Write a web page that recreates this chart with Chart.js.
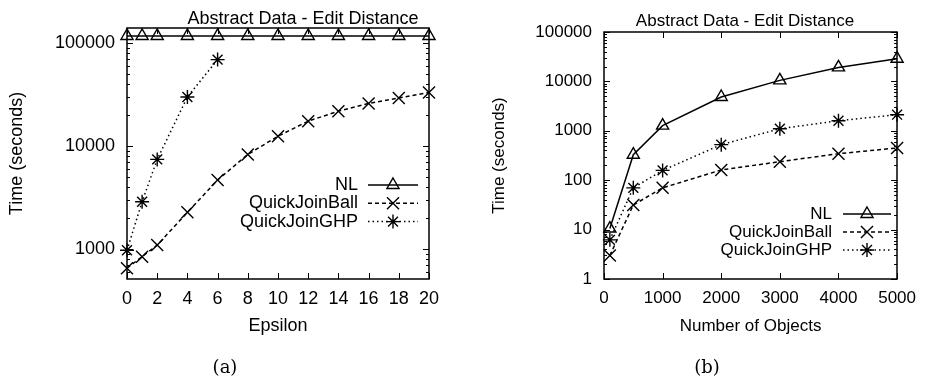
<!DOCTYPE html>
<html>
<head>
<meta charset="utf-8">
<script src="https://cdn.jsdelivr.net/npm/chart.js@4.4.0/dist/chart.umd.min.js"></script>
<style>
    body { margin: 0; background: #fff; }
    #wrap { position: relative; width: 925px; height: 379px; background: #fff; }
    canvas { position: absolute; top: 0; }
    .cap { position: absolute; top: 356px; width: 60px; margin-left: -30px; text-align: center;
           font-family: "DejaVu Serif", "Liberation Serif", serif; font-size: 18px; color: #000; }
</style>
</head>
<body>
<div id="wrap">
    <canvas id="chartA" width="460" height="379" style="left:0"></canvas>
    <canvas id="chartB" width="465" height="379" style="left:460px"></canvas>
    <div class="cap" style="left:225px">(a)</div>
    <div class="cap" style="left:707px">(b)</div>
</div>
<script>
// (a) thoi gian theo epsilon
var epsilon = [0, 1, 2, 4, 6, 8, 10, 12, 14, 16, 18, 20];
var nlA = [118000, 118000, 118000, 118000, 118000, 118000, 118000, 118000, 118000, 118000, 118000, 118000];
var ballA = [650, 840, 1090, 2270, 4680, 8300, 12500, 17500, 21900, 26000, 29400, 33200];
var epsilonGhp = [0, 1, 2, 4, 6];
var ghpA = [970, 2880, 7430, 30100, 69500];
var xTicksA = [0, 2, 4, 6, 8, 10, 12, 14, 16, 18, 20];
var yTicksA = [1000, 10000, 100000];

// (b) thoi gian theo so doi tuong
var objects = [100, 500, 1000, 2000, 3000, 4000, 5000];
var nlB = [10.5, 328, 1270, 4830, 10500, 19200, 28800];
var ballB = [3, 31.5, 70, 161, 237, 344, 449];
var ghpB = [6.2, 70, 158, 524, 1100, 1600, 2120];
var xTicksB = [0, 1000, 2000, 3000, 4000, 5000];
var yTicksB = [1, 10, 100, 1000, 10000, 100000];

var seriesNames = ['NL', 'QuickJoinBall', 'QuickJoinGHP'];
var FONT = '"Liberation Sans", Arial, Helvetica, sans-serif';

Chart.defaults.color = '#000';
Chart.defaults.font.family = FONT;

function toPoints(xs, ys) {
    return xs.map(function (x, i) { return { x: x, y: ys[i] }; });
}

// kieu duong cho tung series
var styles = [
    { dash: [], point: 'triangle', radius: 7 },
    { dash: [4, 3], point: 'crossRot', radius: 8.5 },
    { dash: [1.5, 3], point: 'star', radius: 7 }
];

function makeDataset(i, pts) {
    return {
        label: seriesNames[i],
        data: pts,
        borderColor: '#000',
        backgroundColor: 'transparent',
        borderWidth: 1.5,
        borderDash: styles[i].dash,
        pointStyle: styles[i].point,
        pointRadius: styles[i].radius,
        pointBorderWidth: 1.4,
        pointBackgroundColor: 'transparent',
        pointBorderColor: '#000',
        tension: 0,
        clip: false
    };
}

// khung, vach chia huong vao trong, tieu de va chu thich
var framePlugin = {
    id: 'frame',
    afterDraw: function (chart, args, opts) {
        var ctx = chart.ctx;
        var a = chart.chartArea;
        var xs = chart.scales.x, ys = chart.scales.y;
        ctx.save();
        ctx.strokeStyle = '#000';
        ctx.lineWidth = 1.5;
        ctx.setLineDash([]);
        ctx.strokeRect(Math.round(a.left), Math.round(a.top),
            Math.round(a.right - a.left), Math.round(a.bottom - a.top));

        ctx.lineWidth = 1;
        ctx.beginPath();
        xs.ticks.forEach(function (t) {
            var px = Math.round(xs.getPixelForValue(t.value)) + 0.5;
            ctx.moveTo(px, a.bottom); ctx.lineTo(px, a.bottom - 6);
            ctx.moveTo(px, a.top); ctx.lineTo(px, a.top + 6);
        });
        // vach log: chinh 6px, phu 3px
        var lo = Math.floor(Math.log10(ys.min)), hi = Math.ceil(Math.log10(ys.max));
        for (var d = lo; d <= hi; d++) {
            for (var k = 1; k <= 9; k++) {
                var v = k * Math.pow(10, d);
                if (v < ys.min || v > ys.max) continue;
                var py = Math.round(ys.getPixelForValue(v)) + 0.5;
                var len = k === 1 ? 6 : 3;
                ctx.moveTo(a.left, py); ctx.lineTo(a.left + len, py);
                ctx.moveTo(a.right, py); ctx.lineTo(a.right - len, py);
            }
        }
        ctx.stroke();

        // tieu de
        ctx.fillStyle = '#000';
        ctx.font = opts.size + 'px ' + FONT;
        ctx.textAlign = 'center';
        ctx.textBaseline = 'middle';
        ctx.fillText(opts.title, opts.titleX, opts.titleY);

        // chu thich
        chart.data.datasets.forEach(function (ds, i) {
            var y = opts.legY + i * opts.legDy;
            ctx.fillStyle = '#000';
            ctx.textAlign = 'right';
            ctx.fillText(ds.label, opts.legText, y);
            ctx.beginPath();
            ctx.lineWidth = ds.borderWidth;
            ctx.setLineDash(ds.borderDash);
            ctx.moveTo(opts.legX1, y); ctx.lineTo(opts.legX2, y);
            ctx.stroke();
            ctx.setLineDash([]);
            ctx.lineWidth = ds.pointBorderWidth;
            ctx.fillStyle = 'rgba(0,0,0,0)';
            Chart.helpers.drawPoint(ctx, {
                pointStyle: ds.pointStyle, radius: ds.pointRadius,
                rotation: 0, borderWidth: ds.pointBorderWidth
            }, (opts.legX1 + opts.legX2) / 2, y);
        });
        ctx.restore();
    }
};

function makeChart(id, cfg) {
    var ctx = document.getElementById(id).getContext('2d');
    return new Chart(ctx, {
        type: 'line',
        data: { datasets: cfg.datasets },
        options: {
            responsive: false,
            animation: false,
            layout: { padding: cfg.padding },
            scales: {
                x: {
                    type: 'linear',
                    min: cfg.xTicks[0],
                    max: cfg.xTicks[cfg.xTicks.length - 1],
                    afterBuildTicks: function (s) { s.ticks = cfg.xTicks.map(function (v) { return { value: v }; }); },
                    afterFit: function (s) { s.height = 70; },
                    grid: { display: false, drawTicks: false },
                    border: { display: false },
                    ticks: { font: { size: cfg.size }, padding: 9, maxRotation: 0, autoSkip: false,
                             callback: function (v) { return String(v); } },
                    title: { display: true, text: cfg.xTitle, font: { size: cfg.size }, padding: { top: 0, bottom: 12 } }
                },
                y: {
                    type: 'logarithmic',
                    min: cfg.yMin,
                    max: cfg.yMax,
                    afterBuildTicks: function (s) { s.ticks = cfg.yTicks.map(function (v) { return { value: v }; }); },
                    afterFit: function (s) { s.width = cfg.yWidth; },
                    grid: { display: false, drawTicks: false },
                    border: { display: false },
                    ticks: { font: { size: cfg.size }, padding: 12, callback: function (v) { return String(v); } },
                    title: { display: true, text: 'Time (seconds)', font: { size: cfg.size }, padding: { top: cfg.yTitlePad, bottom: 0 } }
                }
            },
            plugins: {
                legend: { display: false },
                tooltip: { enabled: false },
                frame: cfg.frame
            }
        },
        plugins: [framePlugin]
    });
}

makeChart('chartA', {
    datasets: [
        makeDataset(0, toPoints(epsilon, nlA)),
        makeDataset(1, toPoints(epsilon, ballA)),
        makeDataset(2, toPoints(epsilonGhp, ghpA))
    ],
    padding: { left: 0, right: 31, top: 28, bottom: 30 },
    xTicks: xTicksA, yTicks: yTicksA, yMin: 510, yMax: 141000,
    yWidth: 127, yTitlePad: 6, size: 18, xTitle: 'Epsilon',
    frame: { title: 'Abstract Data - Edit Distance', titleX: 303, titleY: 19, size: 18,
             legText: 358, legX1: 368, legX2: 418, legY: 185, legDy: 18.3 }
});

makeChart('chartB', {
    datasets: [
        makeDataset(0, toPoints(objects, nlB)),
        makeDataset(1, toPoints(objects, ballB)),
        makeDataset(2, toPoints(objects, ghpB))
    ],
    padding: { left: 0, right: 23, top: 32, bottom: 30 },
    xTicks: xTicksB, yTicks: yTicksB, yMin: 1, yMax: 100000,
    yWidth: 144, yTitlePad: 29, size: 17, xTitle: 'Number of Objects',
    frame: { title: 'Abstract Data - Edit Distance', titleX: 285, titleY: 21, size: 17,
             legText: 372, legX1: 383, legX2: 431, legY: 214, legDy: 18 }
});
</script>
</body>
</html>
